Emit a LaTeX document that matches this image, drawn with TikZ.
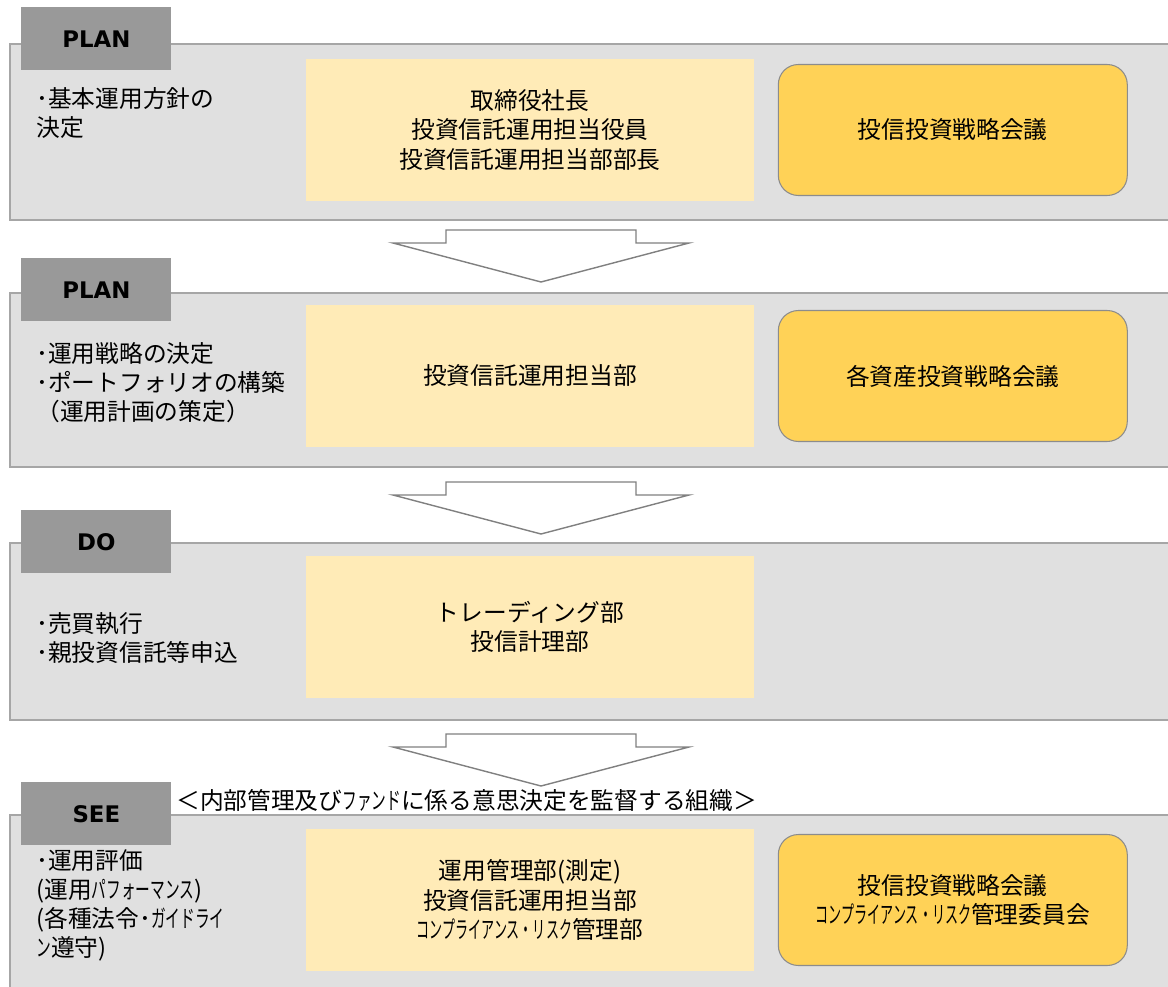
\documentclass[tikz,border=0pt]{standalone}
\usepackage{fontspec}
\usepackage{graphicx}
\setmainfont{Noto Sans CJK JP}
\newfontfamily\tabfont{DejaVu Sans}
\usetikzlibrary{positioning}

\definecolor{bandgray}{HTML}{E0E0E0}
\definecolor{bandline}{HTML}{A6A6A6}
\definecolor{tabgray}{HTML}{999999}
\definecolor{unityellow}{HTML}{FFEBB7}
\definecolor{boardorange}{HTML}{FFD257}
\definecolor{boardline}{HTML}{8C8C8C}

% condensed (half-width looking) katakana
\newcommand{\hankana}[2][0.55]{\scalebox{#1}[1]{#2}}

\tikzset{
  band/.style={fill=bandgray, draw=bandline, line width=0.6pt},
  tab/.style={fill=tabgray, anchor=north west, minimum width=3cm, minimum height=1.26cm,
    inner sep=0pt, font=\tabfont\bfseries\fontsize{13}{15}\selectfont},
  unit/.style={fill=unityellow, minimum width=8.98cm, minimum height=2.86cm, align=center},
  board/.style={fill=boardorange, draw=boardline, line width=0.6pt, rounded corners=0.4cm,
    minimum width=6.98cm, minimum height=2.62cm, align=center},
  task/.style={anchor=north west, align=left, inner sep=0pt},
  flow/.pic={
    \draw[fill=white, draw=gray, line width=0.8pt]
      (-95,0) -- (95,0) -- (95,13) -- (148,13) -- (0,52) -- (-148,13) -- (-95,13) -- cycle;
  }
}

\begin{document}
\begin{tikzpicture}[x=0.02cm, y=-0.02cm, font=\fontsize{13.5}{16.6}\selectfont]
        \useasboundingbox (0,0) rectangle (1168,986);

        % bands
        \draw[band] (10,44)  rectangle (1180,220);
        \draw[band] (10,293) rectangle (1180,467);
        \draw[band] (10,543) rectangle (1180,720);
        \draw[band] (10,815) rectangle (1180,1000);

        % tabs
        \node[tab] (tab1) at (21,7)   {PLAN};
        \node[tab] (tab2) at (21,258) {PLAN};
        \node[tab] (tab3) at (21,510) {DO};
        \node[tab] (tab4) at (21,782) {SEE};

        % tasks
        \node[task] (task1) at (36,87)  {･基本運用方針の\\決定};
        \node[task] (task2) at (36,342) {･運用戦略の決定\\･ポートフォリオの構築\\（運用計画の策定）};
        \node[task] (task3) at (36,612) {･売買執行\\･親投資信託等申込};
        \node[task] (task4) at (36,849) {･運用評価\\(運用\hankana[0.62]{パフォーマンス})\\(各種法令･\hankana[0.62]{ガイドライ}\\\hankana[0.62]{ン}遵守)};

        % units
        \node[unit] (unit1) at (530,130) {取締役社長\\投資信託運用担当役員\\投資信託運用担当部部長};
        \node[unit] (unit2) at (530,376) {投資信託運用担当部};
        \node[unit] (unit3) at (530,627) {トレーディング部\\投信計理部};
        \node[unit] (unit4) at (530,900) {運用管理部(測定)\\投資信託運用担当部\\\hankana{コンプライアンス・リスク}管理部};

        % boards
        \node[board] (board1) [right=0.46cm of unit1] {投信投資戦略会議};
        \node[board] (board2) [right=0.46cm of unit2] {各資産投資戦略会議};
        \node[board] (board4) [right=0.46cm of unit4] {投信投資戦略会議\\\hankana{コンプライアンス・リスク}管理委員会};

        \node[anchor=west, inner sep=0pt] (note4) at (176,800) {＜内部管理及び\hankana[0.62]{ファンド}に係る意思決定を監督する組織＞};

        % flow arrows
        \pic at (541,230) {flow};
        \pic at (541,482) {flow};
        \pic at (541,734) {flow};
     \end{tikzpicture}
\end{document}
